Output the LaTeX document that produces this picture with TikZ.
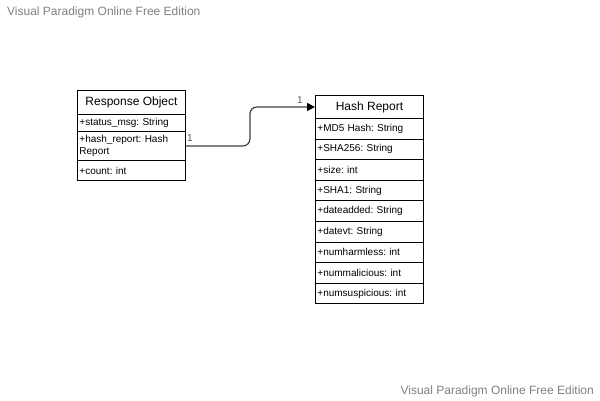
\documentclass[tikz,border=0pt]{standalone}
\usepackage{fontspec}
\setmainfont{Liberation Sans}
\frenchspacing
\usetikzlibrary{arrows.meta}
\begin{document}
\begin{tikzpicture}[x=1pt,y=-1pt,
  hdr/.style={draw=black,line width=0.9pt,rectangle,anchor=north west,inner sep=0pt,
    font=\fontsize{12}{14}\selectfont,align=center},
  attr/.style={draw=black,line width=0.9pt,rectangle,anchor=north west,inner xsep=2pt,inner ysep=0pt,
    font=\fontsize{10}{12}\selectfont,align=left},
  wm/.style={text=black!50,font=\fontsize{12}{14}\selectfont,inner sep=0pt},
  lbl/.style={text=black!65,font=\fontsize{10}{12}\selectfont,inner sep=0pt},
  conn/.style={draw=black!75,line width=1.2pt,rounded corners=7pt,-{Triangle[length=8pt,width=8pt,fill=black,color=black]}}
]
\useasboundingbox (0,0) rectangle (600,400);
\node[wm,anchor=west] (wm1) at (7,12) {Visual Paradigm Online Free Edition};
\node[wm,anchor=east] (wm2) at (594,391) {Visual Paradigm Online Free Edition};

% Response Object
\node[hdr,minimum width=108,minimum height=24] (ro) at (77,90) {Response Object};
\node[attr,minimum width=108,minimum height=17,text width=104] (ro1) at (77,114) {+status\_msg: String};
\node[attr,minimum width=108,minimum height=29,text width=104] (ro2) at (77,131) {+hash\_report: Hash\\Report};
\node[attr,minimum width=108,minimum height=20,text width=104] (ro3) at (77,160) {+count: int};

% Hash Report
\node[hdr,minimum width=108,minimum height=23] (hr) at (315,95) {Hash Report};
\node[attr,minimum width=108,minimum height=20.6,text width=104] (hr1) at (315,118) {+MD5 Hash: String};
\node[attr,minimum width=108,minimum height=20.6,text width=104] (hr2) at (315,138.6) {+SHA256: String};
\node[attr,minimum width=108,minimum height=20.6,text width=104] (hr3) at (315,159.2) {+size: int};
\node[attr,minimum width=108,minimum height=20.6,text width=104] (hr4) at (315,179.8) {+SHA1: String};
\node[attr,minimum width=108,minimum height=20.6,text width=104] (hr5) at (315,200.4) {+dateadded: String};
\node[attr,minimum width=108,minimum height=20.6,text width=104] (hr6) at (315,221) {+datevt: String};
\node[attr,minimum width=108,minimum height=20.6,text width=104] (hr7) at (315,241.6) {+numharmless: int};
\node[attr,minimum width=108,minimum height=20.6,text width=104] (hr8) at (315,262.2) {+nummalicious: int};
\node[attr,minimum width=108,minimum height=20.6,text width=104] (hr9) at (315,282.8) {+numsuspicious: int};

% connector
\draw[conn] (ro2.east) -- ++(64,0) |- (hr.west);
\node[lbl] (l1) at (190,138) {1};
\node[lbl] (l2) at (300,100) {1};
\end{tikzpicture}
\end{document}
